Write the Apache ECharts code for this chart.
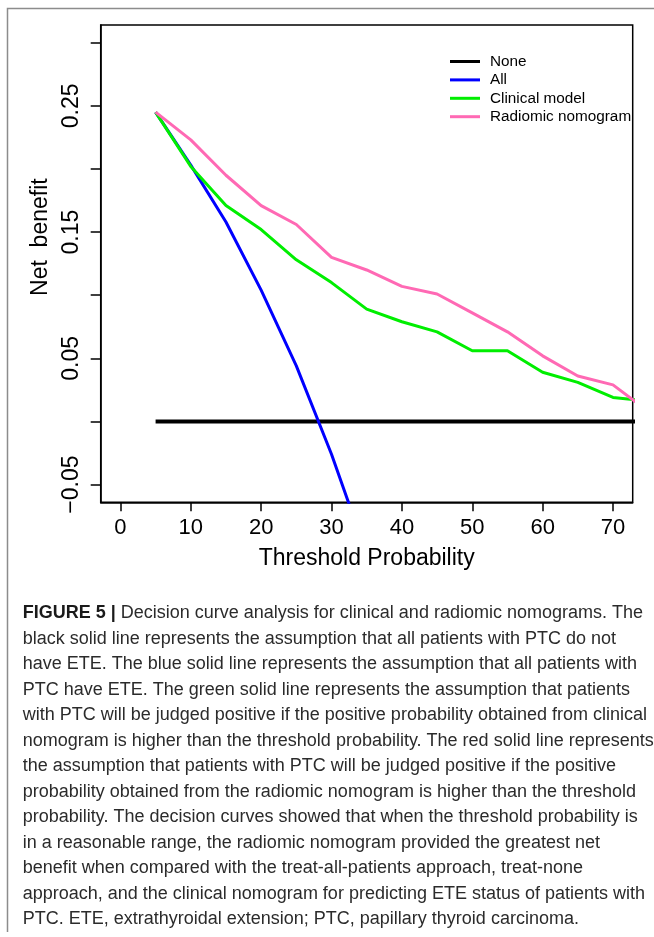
<!DOCTYPE html>
<html>
<head>
<meta charset="utf-8">
<script src="https://cdn.jsdelivr.net/npm/echarts@6/dist/echarts.min.js"></script>
<style>
  html, body { margin: 0; padding: 0; background: #fff; }
  #chart { width: 654px; height: 937px; }
</style>
</head>
<body>
<div id="chart"></div>
<script>
// threshold probability (%)
var thresholds = [5, 10, 15, 20, 25, 30, 35, 40, 45, 50, 55, 60, 65, 70, 75];
// net benefit of each strategy
var noneNB = [0, 0, 0, 0, 0, 0, 0, 0, 0, 0, 0, 0, 0, 0, 0];
var allNB = [0.245, 0.203, 0.158, 0.104, 0.044, -0.026, -0.105];
var clinicalNB = [0.245, 0.202, 0.171, 0.152, 0.128, 0.110, 0.089, 0.079, 0.071, 0.056, 0.056, 0.039, 0.031, 0.019, 0.016];
var radiomicNB = [0.245, 0.223, 0.195, 0.171, 0.156, 0.130, 0.120, 0.107, 0.101, 0.086, 0.071, 0.052, 0.036, 0.029, 0.008];

var seriesNames = ['None', 'All', 'Clinical model', 'Radiomic nomogram'];
var xTicks = [0, 10, 20, 30, 40, 50, 60, 70];
var yTicks = [-0.05, 0, 0.05, 0.1, 0.15, 0.2, 0.25, 0.3];
var yLabels = [-0.05, 0.05, 0.15, 0.25];

var captionHead = 'FIGURE 5 |';
var captionLines = [
  ' Decision curve analysis for clinical and radiomic nomograms. The',
  'black solid line represents the assumption that all patients with PTC do not',
  'have ETE. The blue solid line represents the assumption that all patients with',
  'PTC have ETE. The green solid line represents the assumption that patients',
  'with PTC will be judged positive if the positive probability obtained from clinical',
  'nomogram is higher than the threshold probability. The red solid line represents',
  'the assumption that patients with PTC will be judged positive if the positive',
  'probability obtained from the radiomic nomogram is higher than the threshold',
  'probability. The decision curves showed that when the threshold probability is',
  'in a reasonable range, the radiomic nomogram provided the greatest net',
  'benefit when compared with the treat-all-patients approach, treat-none',
  'approach, and the clinical nomogram for predicting ETE status of patients with',
  'PTC. ETE, extrathyroidal extension; PTC, papillary thyroid carcinoma.'
];

function pairs(vals) {
  return vals.map(function (v, i) { return [thresholds[i], v]; });
}

var font = 'Liberation Sans, Arial, Helvetica, sans-serif';
var myChart = echarts.init(document.getElementById('chart'));

// caption below the plot
var captionGraphics = captionLines.map(function (line, i) {
  var txt = i === 0 ? '{b|' + captionHead + '}' + line : line;
  return {
    type: 'text',
    left: 22.7,
    top: 614.3 + i * 25.5 - 10,
    style: {
      text: txt,
      font: '18px ' + font,
      fill: '#2b2b2b',
      rich: { b: { fontWeight: 'bold', fontSize: 18, fontFamily: font, fill: '#1a1a1a' } }
    }
  };
});

myChart.setOption({
  animation: false,
  backgroundColor: '#fff',
  grid: {
    left: 100.7, right: 21.3, top: 25, bottom: 434.7,
    show: true, borderColor: '#000', borderWidth: 1.5,
    outerBoundsMode: 'none'
  },
  legend: {
    orient: 'vertical',
    left: 445, top: 49,
    icon: 'rect',
    itemWidth: 30, itemHeight: 3,
    itemGap: 3.4,
    data: seriesNames,
    textStyle: { fontFamily: font, fontSize: 15.3, color: '#000', lineHeight: 15, padding: [0, 0, 0, 5] }
  },
  xAxis: {
    type: 'value',
    min: -2.8, max: 72.8,
    name: 'Threshold Probability',
    nameLocation: 'middle',
    nameGap: 45,
    nameTextStyle: { fontFamily: font, fontSize: 23, color: '#000' },
    axisLine: { show: true, onZero: false, lineStyle: { color: '#000', width: 1.5 } },
    axisTick: { show: true, length: 9, customValues: xTicks, lineStyle: { color: '#000', width: 1.5 } },
    axisLabel: { customValues: xTicks, margin: 15, fontFamily: font, fontSize: 22, color: '#000' },
    splitLine: { show: false }
  },
  yAxis: {
    type: 'value',
    min: -0.064, max: 0.314,
    name: 'Net  benefit',
    nameLocation: 'middle',
    nameRotate: 90,
    nameGap: 41,
    nameTextStyle: { fontFamily: font, fontSize: 23, color: '#000', padding: [0, 0, 0, 53] },
    axisLine: { show: true, onZero: false, lineStyle: { color: '#000', width: 1.5 } },
    axisTick: { show: true, length: 10, customValues: yTicks, lineStyle: { color: '#000', width: 1.5 } },
    axisLabel: {
      customValues: yLabels, rotate: 90, margin: 18,
      fontFamily: font, fontSize: 23, color: '#000',
      formatter: function (v) { return v.toFixed(2).replace('-', '\u2212'); }
    },
    splitLine: { show: false }
  },
  series: [{
    name: 'None', type: 'line', data: pairs(noneNB), showSymbol: false,
    itemStyle: { color: '#000' }, lineStyle: { color: '#000', width: 4 }
  }, {
    name: 'All', type: 'line', data: pairs(allNB), showSymbol: false,
    itemStyle: { color: '#0000FF' }, lineStyle: { color: '#0000FF', width: 3 }
  }, {
    name: 'Clinical model', type: 'line', data: pairs(clinicalNB), showSymbol: false,
    itemStyle: { color: '#00EE00' }, lineStyle: { color: '#00EE00', width: 3 }
  }, {
    name: 'Radiomic nomogram', type: 'line', data: pairs(radiomicNB), showSymbol: false,
    itemStyle: { color: '#FF69B4' }, lineStyle: { color: '#FF69B4', width: 3 }
  }],
  graphic: [{
    type: 'polyline',
    shape: { points: [[654, 8.5], [7.5, 8.5], [7.5, 932]] },
    style: { stroke: '#8c8c8c', lineWidth: 1.5, fill: null }
  }].concat(captionGraphics)
});
</script>
</body>
</html>
